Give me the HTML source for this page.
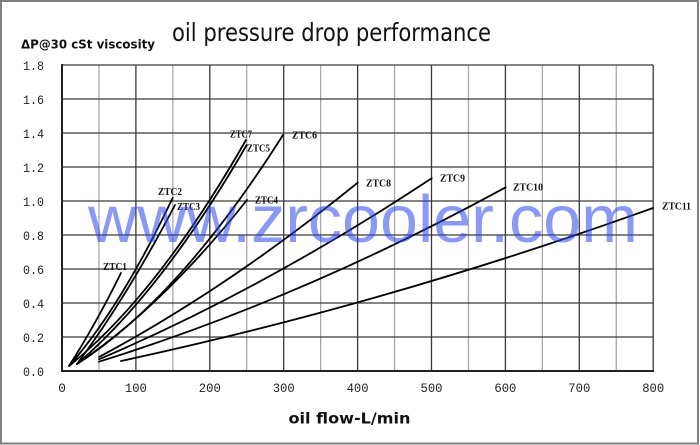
<!DOCTYPE html>
<html>
<head>
<meta charset="utf-8">
<style>
html,body{margin:0;padding:0;background:#fff;}
svg{display:block;}
</style>
</head>
<body>
<svg width="700" height="445" viewBox="0 0 700 445" xmlns="http://www.w3.org/2000/svg">
<rect x="0" y="0" width="700" height="445" fill="#fff"/>
<rect x="1" y="1" width="697" height="442.5" fill="none" stroke="#808080" stroke-width="2"/>

<!-- minor vertical grid (50s) -->
<g stroke="#a8a8a8" stroke-width="1.3">
<line x1="98.95" y1="65" x2="98.95" y2="371"/>
<line x1="172.85" y1="65" x2="172.85" y2="371"/>
<line x1="246.75" y1="65" x2="246.75" y2="371"/>
<line x1="320.65" y1="65" x2="320.65" y2="371"/>
<line x1="394.55" y1="65" x2="394.55" y2="371"/>
<line x1="468.45" y1="65" x2="468.45" y2="371"/>
<line x1="542.35" y1="65" x2="542.35" y2="371"/>
<line x1="616.25" y1="65" x2="616.25" y2="371"/>
</g>
<!-- major vertical grid (100s) -->
<g stroke="#3a3a3a" stroke-width="1.3">
<line x1="135.9" y1="65" x2="135.9" y2="371"/>
<line x1="209.8" y1="65" x2="209.8" y2="371"/>
<line x1="283.7" y1="65" x2="283.7" y2="371"/>
<line x1="357.6" y1="65" x2="357.6" y2="371"/>
<line x1="431.5" y1="65" x2="431.5" y2="371"/>
<line x1="505.4" y1="65" x2="505.4" y2="371"/>
<line x1="579.3" y1="65" x2="579.3" y2="371"/>
<line x1="653.2" y1="65" x2="653.2" y2="371"/>
</g>
<!-- horizontal grid -->
<g stroke="#3a3a3a" stroke-width="1.3">
<line x1="62" y1="337" x2="653.2" y2="337"/>
<line x1="62" y1="303" x2="653.2" y2="303"/>
<line x1="62" y1="269" x2="653.2" y2="269"/>
<line x1="62" y1="235" x2="653.2" y2="235"/>
<line x1="62" y1="201" x2="653.2" y2="201"/>
<line x1="62" y1="167" x2="653.2" y2="167"/>
<line x1="62" y1="133" x2="653.2" y2="133"/>
<line x1="62" y1="99" x2="653.2" y2="99"/>
<line x1="62" y1="65" x2="653.2" y2="65"/>
</g>
<!-- axes -->
<line x1="62" y1="64" x2="62" y2="372" stroke="#222" stroke-width="2"/>
<line x1="61" y1="371" x2="654" y2="371" stroke="#222" stroke-width="2"/>

<!-- y tick labels -->
<g font-family="Liberation Mono, monospace" font-size="13" fill="#222" text-anchor="end">
<text x="44" y="376" textLength="21" lengthAdjust="spacingAndGlyphs">0.0</text>
<text x="44" y="342" textLength="21" lengthAdjust="spacingAndGlyphs">0.2</text>
<text x="44" y="308" textLength="21" lengthAdjust="spacingAndGlyphs">0.4</text>
<text x="44" y="274" textLength="21" lengthAdjust="spacingAndGlyphs">0.6</text>
<text x="44" y="240" textLength="21" lengthAdjust="spacingAndGlyphs">0.8</text>
<text x="44" y="206" textLength="21" lengthAdjust="spacingAndGlyphs">1.0</text>
<text x="44" y="172" textLength="21" lengthAdjust="spacingAndGlyphs">1.2</text>
<text x="44" y="138" textLength="21" lengthAdjust="spacingAndGlyphs">1.4</text>
<text x="44" y="104" textLength="21" lengthAdjust="spacingAndGlyphs">1.6</text>
<text x="44" y="70" textLength="21" lengthAdjust="spacingAndGlyphs">1.8</text>
</g>
<!-- x tick labels -->
<g font-family="Liberation Mono, monospace" font-size="13" fill="#222" text-anchor="middle">
<text x="62" y="392">0</text>
<text x="135.9" y="392" textLength="22" lengthAdjust="spacingAndGlyphs">100</text>
<text x="209.8" y="392" textLength="22" lengthAdjust="spacingAndGlyphs">200</text>
<text x="283.7" y="392" textLength="22" lengthAdjust="spacingAndGlyphs">300</text>
<text x="357.6" y="392" textLength="22" lengthAdjust="spacingAndGlyphs">400</text>
<text x="431.5" y="392" textLength="22" lengthAdjust="spacingAndGlyphs">500</text>
<text x="505.4" y="392" textLength="22" lengthAdjust="spacingAndGlyphs">600</text>
<text x="579.3" y="392" textLength="22" lengthAdjust="spacingAndGlyphs">700</text>
<text x="653.2" y="392" textLength="22" lengthAdjust="spacingAndGlyphs">800</text>
</g>

<!-- curves -->
<g fill="none" stroke="#000" stroke-width="1.8" stroke-linecap="round">
<path d="M69,366 Q95,325.5 121,273"/>
<path d="M69,366 Q121,307 172.7,197.7"/>
<path d="M77,364 Q126,298.5 175,205"/>
<path d="M69,366 Q157.5,295 246,140"/>
<path d="M77,364 Q161.85,291.5 246.7,145"/>
<path d="M77,364 Q180,298 283,135"/>
<path d="M77,364 Q162,307 247,200"/>
<path d="M99,357 Q228.35,287.8 357.7,182.7"/>
<path d="M99,359.3 Q265.35,288.2 431.7,178.3"/>
<path d="M99,361.7 Q302.35,298.3 505.7,187.3"/>
<path d="M121,361 Q387,303.7 653,208"/>
</g>

<!-- curve labels -->
<g font-family="Liberation Serif, serif" font-weight="bold" font-size="10" fill="#111">
<text x="103" y="270" textLength="24" lengthAdjust="spacingAndGlyphs">ZTC1</text>
<text x="158" y="195" textLength="24" lengthAdjust="spacingAndGlyphs">ZTC2</text>
<text x="177" y="210" textLength="23" lengthAdjust="spacingAndGlyphs">ZTC3</text>
<text x="230" y="137.5" textLength="22" lengthAdjust="spacingAndGlyphs">ZTC7</text>
<text x="247" y="151.7" textLength="23" lengthAdjust="spacingAndGlyphs">ZTC5</text>
<text x="255" y="203.5" textLength="23" lengthAdjust="spacingAndGlyphs">ZTC4</text>
<text x="292" y="138.5" textLength="25" lengthAdjust="spacingAndGlyphs">ZTC6</text>
<text x="366" y="186.7" textLength="25" lengthAdjust="spacingAndGlyphs">ZTC8</text>
<text x="440" y="181.7" textLength="25" lengthAdjust="spacingAndGlyphs">ZTC9</text>
<text x="513" y="190.7" textLength="30" lengthAdjust="spacingAndGlyphs">ZTC10</text>
<text x="662" y="209.3" textLength="29" lengthAdjust="spacingAndGlyphs">ZTC11</text>
</g>

<!-- titles -->
<text x="172" y="41" font-family="DejaVu Sans, sans-serif" font-size="25" fill="#111" textLength="319" lengthAdjust="spacingAndGlyphs">oil pressure drop performance</text>
<text x="21" y="48.3" font-family="DejaVu Sans, sans-serif" font-weight="bold" font-size="12.5" fill="#111" textLength="134" lengthAdjust="spacingAndGlyphs">ΔP@30 cSt viscosity</text>
<text x="288.5" y="423.3" font-family="DejaVu Sans, sans-serif" font-weight="bold" font-size="15.5" fill="#111" textLength="122" lengthAdjust="spacingAndGlyphs">oil flow-L/min</text>

<!-- watermark -->
<text x="88" y="242" font-family="Liberation Sans, sans-serif" font-size="67" fill="rgb(40,70,235)" fill-opacity="0.55" textLength="550" lengthAdjust="spacingAndGlyphs">www.zrcooler.com</text>
</svg>
</body>
</html>
